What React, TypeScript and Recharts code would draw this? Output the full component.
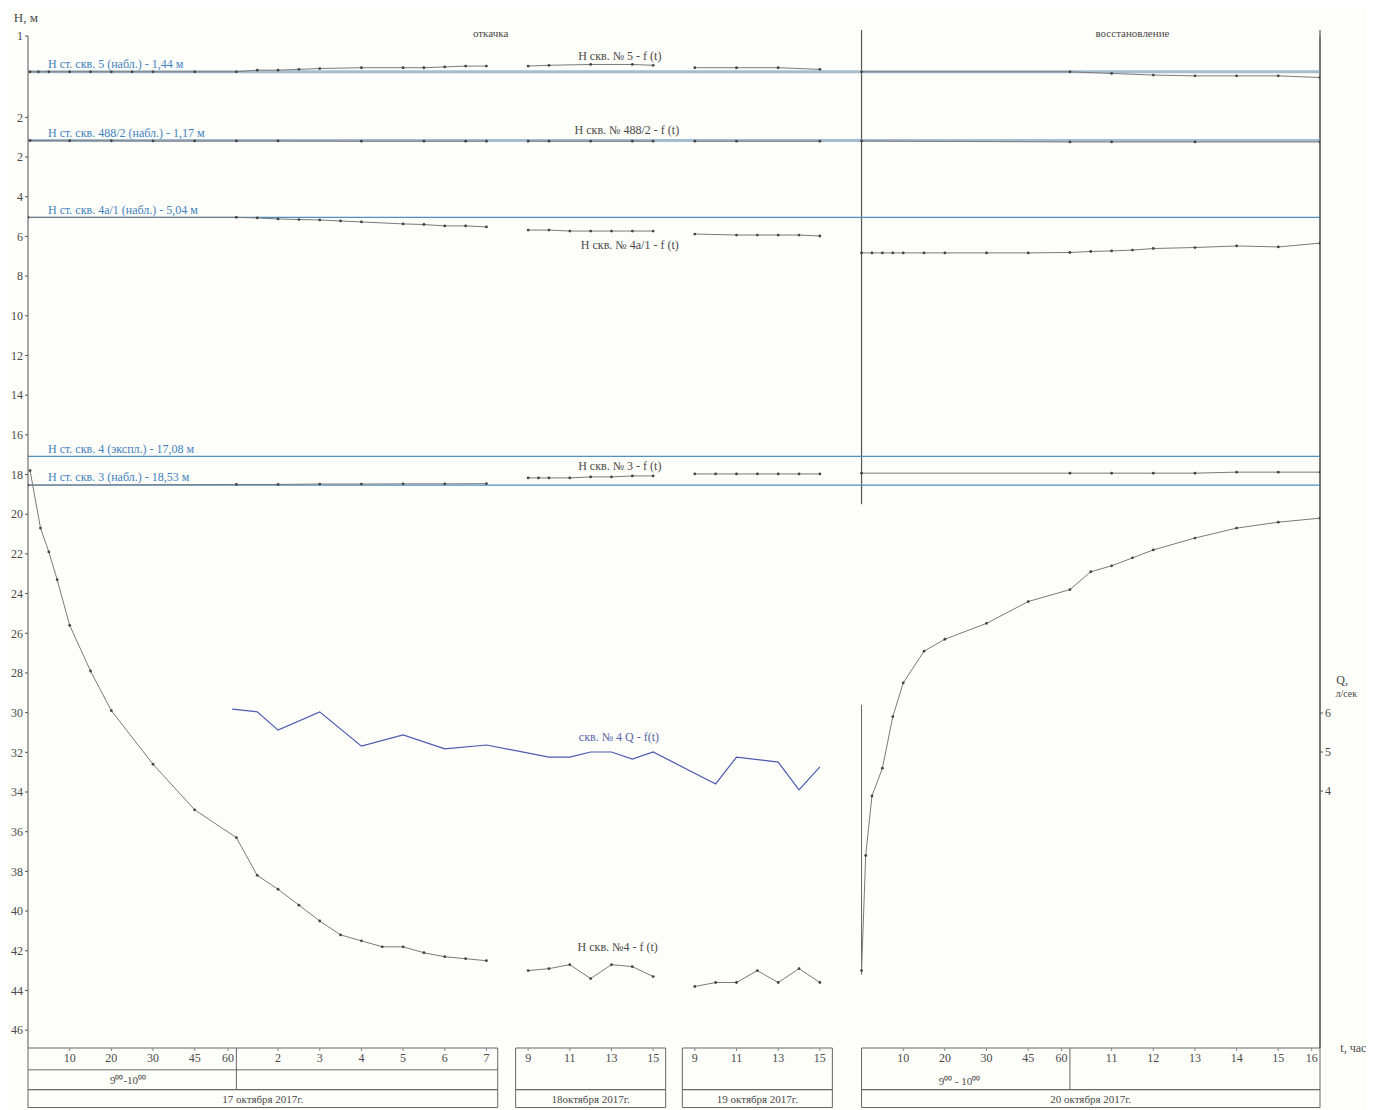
import React from 'react';
import { LineChart, Line, XAxis, YAxis, ReferenceLine, ReferenceArea, ReferenceDot } from 'recharts';

// Composite time scale: 1 unit = one labelled division of the time table
const tickPositions = [1, 2, 3, 4, 4.8, 6, 7, 8, 9, 10, 11, 12, 13, 14, 15, 16, 17, 18, 19, 21, 22, 23, 24, 24.8, 26, 27, 28, 29, 30, 30.8];
const tickLabels = ['10', '20', '30', '45', '60', '2', '3', '4', '5', '6', '7', '9', '11', '13', '15', '9', '11', '13', '15', '10', '20', '30', '45', '60', '11', '12', '13', '14', '15', '16'];

// depth axis (m); top two ticks belong to the magnified scale of well 5
const hTicks = [-4.1, 0, 2, 4, 6, 8, 10, 12, 14, 16, 18, 20, 22, 24, 26, 28, 30, 32, 34, 36, 38, 40, 42, 44, 46];
const hTickLabels = ['1', '2', '2', '4', '6', '8', '10', '12', '14', '16', '18', '20', '22', '24', '26', '28', '30', '32', '34', '36', '38', '40', '42', '44', '46'];
const H_MIN = -4.1;
const H_MAX = 46.9;
const H5_MIN = 1;
const H5_MAX = 1 + (H_MAX - H_MIN) / (0 - H_MIN);
const qTicks = [4, 5, 6];
const Q_MIN = -2.59;
const Q_MAX = 23.36;

// static levels
const staticLevels = [
  { id: 'H', v: 1.17, text: 'Н ст. скв. 488/2 (набл.) - 1,17 м', thick: true },
  { id: 'H', v: 5.04, text: 'Н ст. скв. 4а/1 (набл.) - 5,04 м', thick: false },
  { id: 'H', v: 17.08, text: 'Н ст. скв. 4 (экспл.) - 17,08 м', thick: false },
  { id: 'H', v: 18.53, text: 'Н ст. скв. 3 (набл.) - 18,53 м', thick: false },
];
const w5Static = 1.44;
const w5StaticText = 'Н ст. скв. 5 (набл.) - 1,44 м';

// well 5 (magnified scale)
const w5PumpT = [0.05, 0.25, 0.5, 1, 1.5, 2, 2.5, 3, 4, 5, 5.5, 6, 6.5, 7, 8, 9, 9.5, 10, 10.5, 11];
const w5PumpH = [1.44, 1.44, 1.44, 1.44, 1.44, 1.44, 1.44, 1.44, 1.44, 1.44, 1.42, 1.42, 1.41, 1.40, 1.39, 1.39, 1.39, 1.38, 1.37, 1.37];
const w5D18T = [12, 12.5, 13.5, 14.5, 15];
const w5D18H = [1.37, 1.36, 1.35, 1.35, 1.36];
const w5D19T = [16, 17, 18, 19];
const w5D19H = [1.39, 1.39, 1.39, 1.41];
const w5RecT = [20, 25, 26, 27, 28, 29, 30, 31];
const w5RecH = [1.44, 1.44, 1.46, 1.48, 1.49, 1.49, 1.49, 1.51];

// well 488/2
const w488PumpT = [0.05, 1, 2, 3, 4, 5, 6, 8, 9.5, 10.5, 11];
const w488PumpH = [1.17, 1.18, 1.18, 1.19, 1.19, 1.19, 1.19, 1.2, 1.2, 1.2, 1.2];
const w488D18T = [12, 12.5, 13.5, 14.5, 15];
const w488D18H = [1.2, 1.2, 1.2, 1.2, 1.2];
const w488D19T = [16, 17, 19];
const w488D19H = [1.2, 1.2, 1.2];
const w488RecT = [20, 25, 26, 28, 31];
const w488RecH = [1.19, 1.24, 1.24, 1.24, 1.24];

// well 4a/1
const w4aPumpT = [0, 5, 5.5, 6, 6.5, 7, 7.5, 8, 9, 9.5, 10, 10.5, 11];
const w4aPumpH = [5.04, 5.04, 5.07, 5.12, 5.15, 5.17, 5.22, 5.27, 5.37, 5.40, 5.47, 5.47, 5.52];
const w4aD18T = [12, 12.5, 13, 13.5, 14, 14.5, 15];
const w4aD18H = [5.68, 5.68, 5.73, 5.73, 5.73, 5.73, 5.73];
const w4aD19T = [16, 17, 17.5, 18, 18.5, 19];
const w4aD19H = [5.88, 5.93, 5.93, 5.93, 5.93, 5.98];
const w4aRecT = [20, 20.25, 20.5, 20.75, 21, 21.5, 22, 23, 24, 25, 25.5, 26, 26.5, 27, 28, 29, 30, 31];
const w4aRecH = [6.83, 6.83, 6.83, 6.83, 6.83, 6.83, 6.83, 6.83, 6.83, 6.81, 6.76, 6.73, 6.69, 6.61, 6.56, 6.48, 6.53, 6.34];

// well 3
const w3PumpT = [0, 5, 6, 7, 8, 9, 10, 11];
const w3PumpH = [18.53, 18.5, 18.5, 18.48, 18.48, 18.47, 18.47, 18.46];
const w3D18T = [12, 12.25, 12.5, 13, 13.5, 14, 14.5, 15];
const w3D18H = [18.17, 18.17, 18.17, 18.17, 18.12, 18.12, 18.07, 18.07];
const w3D19T = [16, 16.5, 17, 17.5, 18, 18.5, 19];
const w3D19H = [17.97, 17.97, 17.97, 17.97, 17.97, 17.97, 17.97];
const w3RecT = [20, 25, 26, 27, 28, 29, 30, 31];
const w3RecH = [17.93, 17.93, 17.93, 17.93, 17.93, 17.88, 17.88, 17.88];

// well 4 (pumping well)
const w4PumpT = [0.05, 0.3, 0.5, 0.7, 1, 1.5, 2, 3, 4, 5, 5.5, 6, 6.5, 7, 7.5, 8, 8.5, 9, 9.5, 10, 10.5, 11];
const w4PumpH = [17.8, 20.7, 21.9, 23.3, 25.6, 27.9, 29.9, 32.6, 34.9, 36.3, 38.2, 38.9, 39.7, 40.5, 41.2, 41.5, 41.8, 41.8, 42.1, 42.3, 42.4, 42.5];
const w4D18T = [12, 12.5, 13, 13.5, 14, 14.5, 15];
const w4D18H = [43.0, 42.9, 42.7, 43.4, 42.7, 42.8, 43.3];
const w4D19T = [16, 16.5, 17, 17.5, 18, 18.5, 19];
const w4D19H = [43.8, 43.6, 43.6, 43.0, 43.6, 42.9, 43.6];
const w4RecT = [20, 20.1, 20.25, 20.5, 20.75, 21, 21.5, 22, 23, 24, 25, 25.5, 26, 26.5, 27, 28, 29, 30, 31];
const w4RecH = [43.0, 37.2, 34.2, 32.8, 30.2, 28.5, 26.9, 26.3, 25.5, 24.4, 23.8, 22.9, 22.6, 22.2, 21.8, 21.2, 20.7, 20.4, 20.2];

// discharge of well 4, l/s
const qT = [4.9, 5.5, 6, 7, 8, 9, 10, 11, 12.5, 13, 13.5, 14, 14.5, 15, 16.5, 17, 18, 18.5, 19];
const qV = [6.10, 6.03, 5.56, 6.03, 5.15, 5.44, 5.08, 5.18, 4.87, 4.87, 5.0, 5.0, 4.82, 5.0, 4.18, 4.87, 4.74, 4.03, 4.62];

type Pt = { t: number; v: number | null };
function build(parts: [number[], number[]][]): Pt[] {
  const out: Pt[] = [];
  parts.forEach((p, i) => {
    if (i > 0) out.push({ t: (out[out.length - 1].t + p[0][0]) / 2, v: null });
    p[0].forEach((t, j) => out.push({ t, v: p[1][j] }));
  });
  return out;
}

const w5Data = build([[w5PumpT, w5PumpH], [w5D18T, w5D18H], [w5D19T, w5D19H], [w5RecT, w5RecH]]);
const w488Data = build([[w488PumpT, w488PumpH], [w488D18T, w488D18H], [w488D19T, w488D19H], [w488RecT, w488RecH]]);
const w4aData = build([[w4aPumpT, w4aPumpH], [w4aD18T, w4aD18H], [w4aD19T, w4aD19H], [w4aRecT, w4aRecH]]);
const w3Data = build([[w3PumpT, w3PumpH], [w3D18T, w3D18H], [w3D19T, w3D19H], [w3RecT, w3RecH]]);
const w4Data = build([[w4PumpT, w4PumpH], [w4D18T, w4D18H], [w4D19T, w4D19H], [w4RecT, w4RecH]]);
const qData = build([[qT, qV]]);

// time table below the plot (segments in time units)
const segments = [
  { x1: 0, x2: 11.27, date: '17 октября 2017г.', split: 5, sub: true },
  { x1: 11.7, x2: 15.3, date: '18октября 2017г.', split: null, sub: false },
  { x1: 15.7, x2: 19.3, date: '19 октября 2017г.', split: null, sub: false },
  { x1: 20, x2: 31, date: '20 октября 2017г.', split: 25, sub: false },
];
const ROW1 = 48.0;
const ROW2 = 49.0;
const ROW3 = 49.9;

const INK = '#4a4a4a';
const LINE = '#7a7a7a';
const BLUE = '#3f82c0';
const FONT = 'Liberation Serif, "Times New Roman", serif';

const dotStyle = { r: 1.4, fill: '#444', stroke: 'none' };

function txt(value: string, size = 12, fill = INK) {
  return { value, position: 'center' as const, fill, fontSize: size, fontFamily: FONT };
}

export default function App() {
  return (
    <div style={{ margin: '-8px 0 0 -8px', width: 1375, height: 1110, background: '#fdfdf9', fontFamily: FONT }}>
      <LineChart width={1375} height={1110} margin={{ top: 36, right: 25, bottom: 42, left: 0 }}>
        <XAxis
          xAxisId="t"
          type="number"
          dataKey="t"
          domain={[0, 31]}
          ticks={tickPositions}
          tickFormatter={(v: number) => tickLabels[tickPositions.indexOf(v)] ?? ''}
          interval={0}
          axisLine={false}
          tickSize={3}
          tickLine={{ stroke: '#888' }}
          tick={{ fill: INK, fontSize: 12, fontFamily: FONT }}
          height={20}
          allowDataOverflow
        />
        <YAxis
          yAxisId="H"
          type="number"
          domain={[H_MIN, H_MAX]}
          reversed
          ticks={hTicks}
          interval={0}
          tickFormatter={(v: number) => hTickLabels[hTicks.indexOf(v)] ?? ''}
          width={28}
          tickSize={3}
          axisLine={{ stroke: '#555' }}
          tickLine={{ stroke: '#555' }}
          tick={{ fill: INK, fontSize: 12, fontFamily: FONT }}
          allowDataOverflow
        />
        <YAxis yAxisId="H5" type="number" domain={[H5_MIN, H5_MAX]} reversed hide allowDataOverflow />
        <YAxis
          yAxisId="Q"
          orientation="right"
          type="number"
          domain={[Q_MIN, Q_MAX]}
          ticks={qTicks}
          interval={0}
          width={30}
          tickSize={3}
          axisLine={{ stroke: '#555' }}
          tickLine={{ stroke: '#555' }}
          tick={{ fill: INK, fontSize: 12, fontFamily: FONT }}
          allowDataOverflow
        />

        {/* section dividers */}
        <ReferenceLine xAxisId="t" yAxisId="H" segment={[{ x: 20, y: -4.4 }, { x: 20, y: 19.5 }]} stroke="#555" strokeWidth={1.2} ifOverflow="visible" />
        <ReferenceLine xAxisId="t" yAxisId="H" segment={[{ x: 20, y: 29.6 }, { x: 20, y: 43.2 }]} stroke="#666" strokeWidth={1} ifOverflow="visible" />
        <ReferenceLine xAxisId="t" yAxisId="H" segment={[{ x: 31, y: -4.4 }, { x: 31, y: H_MAX }]} stroke="#555" strokeWidth={1.2} ifOverflow="visible" />

        {/* static levels */}
        <ReferenceLine
          xAxisId="t"
          yAxisId="H5"
          y={w5Static}
          stroke="#a6bdd1"
          strokeWidth={3}
          label={{ value: w5StaticText, position: 'insideLeft', dx: 15, dy: -8, fill: BLUE, fontSize: 12, fontFamily: FONT }}
        />
        {staticLevels.map((s) => (
          <ReferenceLine
            key={s.text}
            xAxisId="t"
            yAxisId={s.id}
            y={s.v}
            stroke={s.thick ? '#a6bdd1' : '#5290c2'}
            strokeWidth={s.thick ? 3 : 1.2}
            label={{ value: s.text, position: 'insideLeft', dx: 15, dy: -8, fill: BLUE, fontSize: 12, fontFamily: FONT }}
          />
        ))}

        {/* series */}
        <Line xAxisId="t" yAxisId="H5" data={w5Data} dataKey="v" stroke={LINE} strokeWidth={1} dot={dotStyle} isAnimationActive={false} connectNulls={false} />
        <Line xAxisId="t" yAxisId="H" data={w488Data} dataKey="v" stroke={LINE} strokeWidth={1} dot={dotStyle} isAnimationActive={false} connectNulls={false} />
        <Line xAxisId="t" yAxisId="H" data={w4aData} dataKey="v" stroke={LINE} strokeWidth={1} dot={dotStyle} isAnimationActive={false} connectNulls={false} />
        <Line xAxisId="t" yAxisId="H" data={w3Data} dataKey="v" stroke={LINE} strokeWidth={1} dot={dotStyle} isAnimationActive={false} connectNulls={false} />
        <Line xAxisId="t" yAxisId="H" data={w4Data} dataKey="v" stroke={LINE} strokeWidth={1} dot={dotStyle} isAnimationActive={false} connectNulls={false} />
        <Line xAxisId="t" yAxisId="Q" data={qData} dataKey="v" stroke="#4a5ab0" strokeWidth={1.2} dot={false} isAnimationActive={false} />

        {/* in-plot texts */}
        <ReferenceDot xAxisId="t" yAxisId="H" x={11.1} y={-4.25} r={0} stroke="none" ifOverflow="visible" label={txt('откачка', 11)} />
        <ReferenceDot xAxisId="t" yAxisId="H" x={26.5} y={-4.25} r={0} stroke="none" ifOverflow="visible" label={txt('восстановление', 11)} />
        <ReferenceDot xAxisId="t" yAxisId="H" x={14.2} y={-3.09} r={0} stroke="none" ifOverflow="visible" label={txt('Н скв. № 5 - f (t)')} />
        <ReferenceDot xAxisId="t" yAxisId="H" x={14.37} y={0.64} r={0} stroke="none" ifOverflow="visible" label={txt('Н скв. № 488/2 - f (t)')} />
        <ReferenceDot xAxisId="t" yAxisId="H" x={14.44} y={6.43} r={0} stroke="none" ifOverflow="visible" label={txt('Н скв. № 4а/1 - f (t)')} />
        <ReferenceDot xAxisId="t" yAxisId="H" x={14.2} y={17.57} r={0} stroke="none" ifOverflow="visible" label={txt('Н скв. № 3 - f (t)')} />
        <ReferenceDot xAxisId="t" yAxisId="H" x={14.18} y={31.23} r={0} stroke="none" ifOverflow="visible" label={txt('скв. № 4  Q - f(t)', 12, '#5766a8')} />
        <ReferenceDot xAxisId="t" yAxisId="H" x={14.15} y={41.81} r={0} stroke="none" ifOverflow="visible" label={txt('Н скв. №4 - f (t)')} />

        {/* axis titles */}
        <ReferenceDot xAxisId="t" yAxisId="H" x={-0.05} y={-5.06} r={0} stroke="none" ifOverflow="visible" label={txt('H, м', 13)} />
        <ReferenceDot xAxisId="t" yAxisId="H" x={31.8} y={46.9} r={0} stroke="none" ifOverflow="visible" label={txt('t, час', 12)} />
        <ReferenceDot xAxisId="t" yAxisId="Q" x={31.53} y={6.85} r={0} stroke="none" ifOverflow="visible" label={txt('Q,', 12)} />
        <ReferenceDot xAxisId="t" yAxisId="Q" x={31.63} y={6.51} r={0} stroke="none" ifOverflow="visible" label={txt('л/сек', 10)} />

        {/* time table */}
        {segments.map((s) => (
          <ReferenceArea key={'r1' + s.date} xAxisId="t" yAxisId="H" x1={s.x1} x2={s.x2} y1={H_MAX} y2={ROW2} fill="none" stroke="#666" strokeWidth={1} ifOverflow="visible" />
        ))}
        {segments.map((s) => (
          <ReferenceArea key={'r3' + s.date} xAxisId="t" yAxisId="H" x1={s.x1} x2={s.x2} y1={ROW2} y2={ROW3} fill="none" stroke="#666" strokeWidth={1} ifOverflow="visible" label={txt(s.date, 11)} />
        ))}
        {segments.filter((s) => s.sub).map((s) => (
          <ReferenceLine key={'sub' + s.date} xAxisId="t" yAxisId="H" segment={[{ x: s.x1, y: ROW1 }, { x: s.x2, y: ROW1 }]} stroke="#666" ifOverflow="visible" />
        ))}
        {segments.filter((s) => s.split !== null).map((s) => (
          <ReferenceLine key={'split' + s.date} xAxisId="t" yAxisId="H" segment={[{ x: s.split as number, y: H_MAX }, { x: s.split as number, y: ROW2 }]} stroke="#666" ifOverflow="visible" />
        ))}
        <ReferenceDot xAxisId="t" yAxisId="H" x={2.4} y={48.5} r={0} stroke="none" ifOverflow="visible" label={txt('9⁰⁰-10⁰⁰', 11)} />
        <ReferenceDot xAxisId="t" yAxisId="H" x={22.35} y={48.55} r={0} stroke="none" ifOverflow="visible" label={txt('9⁰⁰ - 10⁰⁰', 11)} />
      </LineChart>
    </div>
  );
}
